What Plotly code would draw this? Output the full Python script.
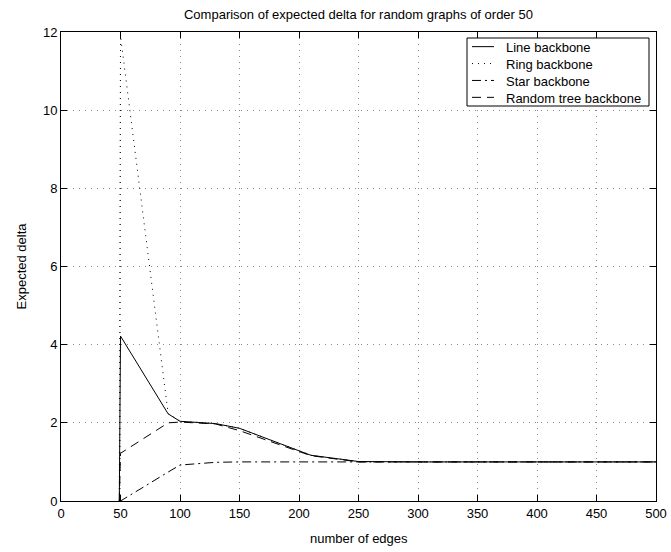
import plotly.graph_objects as go

# ---------------- data ----------------
edges = [49, 50, 90, 100, 130, 150, 210, 250, 300, 350, 400, 450, 500]
line_backbone = [0.0, 4.22, 2.23, 2.04, 1.98, 1.86, 1.17, 1.01, 1.0, 1.0, 1.0, 1.0, 1.0]
ring_backbone = [0.0, 11.9, 2.24, 2.04, 1.98, 1.86, 1.17, 1.01, 1.0, 1.0, 1.0, 1.0, 1.0]
star_backbone = [0.0, 0.0, 0.74, 0.92, 0.99, 1.0, 1.0, 1.0, 1.0, 1.0, 1.0, 1.0, 1.0]
random_tree_backbone = [0.0, 1.22, 2.0, 2.02, 1.97, 1.80, 1.16, 1.0, 1.0, 1.0, 1.0, 1.0, 1.0]

series_names = ["Line backbone", "Ring backbone", "Star backbone", "Random tree backbone"]
series_values = [line_backbone, ring_backbone, star_backbone, random_tree_backbone]
series_dash = ["solid", "1px,5px", "9px,4px,2px,4px", "9px,6px"]

x_ticks = list(range(0, 501, 50))
y_ticks = list(range(0, 13, 2))

title_text = "Comparison of expected delta for random graphs of order 50"
x_title = "number of edges"
y_title = "Expected delta"

# ---------------- layout geometry ----------------
W, H = 671, 552
L, R, T, B = 61, 15, 32, 51
PW, PH = W - L - R, H - T - B
FONT = "Liberation Sans, Arial, Helvetica, sans-serif"
FS = 13
LINE_H = FS * 1.3


def px_x(px):
    return (px - L) / PW


def px_y(py):
    return (H - B - py) / PH


fig = go.Figure()
for name, vals, dash in zip(series_names, series_values, series_dash):
    fig.add_trace(go.Scatter(
        x=edges, y=vals, mode="lines", name=name,
        line=dict(color="black", width=1, dash=dash),
        showlegend=False,
    ))

# manual Matlab-style legend
box_top, box_bot = 38, 106
centre = (box_top + box_bot) / 2
shapes = [dict(type="rect", xref="paper", yref="paper",
               x0=px_x(467), x1=px_x(649), y0=px_y(box_bot), y1=px_y(box_top),
               line=dict(color="black", width=1), fillcolor="white", layer="above")]
n = len(series_names)
for i, dash in enumerate(series_dash):
    ry = centre + (i - (n - 1) / 2) * LINE_H
    shapes.append(dict(type="line", xref="paper", yref="paper",
                       x0=px_x(472), x1=px_x(494), y0=px_y(ry), y1=px_y(ry),
                       line=dict(color="black", width=1, dash=dash), layer="above"))

txt_font = dict(family=FONT, size=FS, color="black")
annotations = [
    dict(xref="paper", yref="paper", x=px_x(504), y=px_y(centre + 1),
         text="<br>".join(series_names), showarrow=False,
         xanchor="left", yanchor="middle", align="left", font=txt_font),
    dict(xref="paper", yref="paper", x=0.5, y=px_y(538),
         text=x_title, showarrow=False, xanchor="center", yanchor="middle",
         font=txt_font),
    dict(xref="paper", yref="paper", x=px_x(21), y=0.5,
         text=y_title, showarrow=False, xanchor="center", yanchor="middle",
         textangle=-90, font=txt_font),
]

axis_common = dict(
    showline=True, linecolor="black", linewidth=1, mirror="ticks",
    ticks="inside", ticklen=6, tickcolor="black", tickwidth=1,
    showgrid=True, gridcolor="#8a8a8a", gridwidth=1, griddash="1px,5px",
    zeroline=False, automargin=False,
    tickfont=txt_font,
)

fig.update_layout(
    width=W, height=H,
    margin=dict(l=L, r=R, t=T, b=B, pad=0, autoexpand=False),
    paper_bgcolor="white", plot_bgcolor="white",
    font=txt_font,
    title=dict(text=title_text,
               x=0.5, xref="paper", y=1 - 14 / H, yref="container",
               xanchor="center", yanchor="middle", font=txt_font),
    xaxis=dict(range=[0, 500], tickvals=x_ticks, ticktext=[str(v) for v in x_ticks],
               **axis_common),
    yaxis=dict(range=[0, 12], tickvals=y_ticks, ticktext=[str(v) for v in y_ticks],
               **axis_common),
    shapes=shapes, annotations=annotations, showlegend=False,
)

fig.write_html("out.html")
